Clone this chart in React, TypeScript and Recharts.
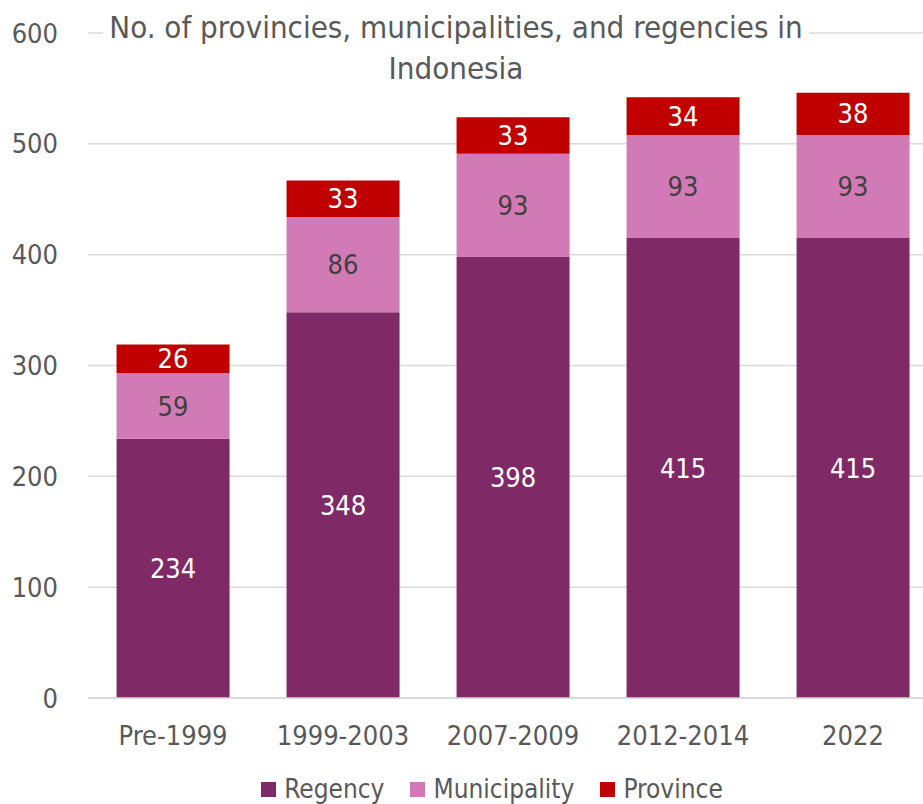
import { Bar, BarChart, CartesianGrid, LabelList, Legend, XAxis, YAxis } from 'recharts';

const categories = ['Pre-1999', '1999-2003', '2007-2009', '2012-2014', '2022'];
const regency = [234, 348, 398, 415, 415];
const municipality = [59, 86, 93, 93, 93];
const province = [26, 33, 33, 34, 38];
const yTicks = [0, 100, 200, 300, 400, 500, 600];

const FONT = "'DejaVu Sans', sans-serif";
const TEXT = '#595959';

const data = categories.map((name, i) => ({
  name,
  regency: regency[i],
  municipality: municipality[i],
  province: province[i],
}));

const legendItems = [
  { label: 'Regency', color: '#7f2a67' },
  { label: 'Municipality', color: '#d27ab6' },
  { label: 'Province', color: '#c00000' },
];

function LegendContent() {
  return (
    <div style={{ display: 'flex', justifyContent: 'center', alignItems: 'center', gap: 26, fontSize: 26, color: TEXT, paddingLeft: 46 }}>
      {legendItems.map((it) => (
        <div key={it.label} style={{ display: 'flex', alignItems: 'center', gap: 8 }}>
          <span style={{ width: 15, height: 15, background: it.color, display: 'inline-block' }} />
          <span>{it.label}</span>
        </div>
      ))}
    </div>
  );
}

export default function App() {
  return (
    <div
      style={{
        position: 'fixed',
        left: 0,
        top: 0,
        width: 923,
        height: 804,
        overflow: 'hidden',
        background: '#fff',
        fontFamily: FONT,
        fontStretch: 'condensed',
      }}
    >
      <BarChart
        width={940}
        height={804}
        data={data}
        margin={{ top: 33, right: 2, left: 0, bottom: 0 }}
        barCategoryGap="16.8%"
      >
        <CartesianGrid vertical={false} stroke="#d9d9d9" strokeWidth={1.5} />
        <XAxis
          dataKey="name"
          height={66}
          tick={{ fill: TEXT, fontSize: 27 }}
          tickLine={false}
          axisLine={{ stroke: '#d9d9d9', strokeWidth: 1.5 }}
          tickMargin={22}
        />
        <YAxis
          domain={[0, 600]}
          ticks={yTicks}
          width={88}
          tick={{ fill: TEXT, fontSize: 27, dx: -22 }}
          tickLine={false}
          axisLine={false}
        />
        <Legend verticalAlign="bottom" height={40} wrapperStyle={{ bottom: -10 }} content={<LegendContent />} />
        <Bar dataKey="regency" stackId="a" fill="#7f2a67" isAnimationActive={false}>
          <LabelList dataKey="regency" position="center" fill="#ffffff" fontSize={27} />
        </Bar>
        <Bar dataKey="municipality" stackId="a" fill="#d27ab6" isAnimationActive={false}>
          <LabelList dataKey="municipality" position="center" fill="#404040" fontSize={27} />
        </Bar>
        <Bar dataKey="province" stackId="a" fill="#c00000" isAnimationActive={false}>
          <LabelList dataKey="province" position="center" fill="#ffffff" fontSize={27} />
        </Bar>
      </BarChart>
      <div
        style={{
          position: 'absolute',
          left: 100,
          top: 7,
          width: 712,
          textAlign: 'center',
          fontSize: 31,
          lineHeight: '41px',
          color: TEXT,
        }}
      >
        <span style={{ background: '#fff', padding: '0 6px' }}>No. of provincies, municipalities, and regencies in</span>
        <br />
        <span>Indonesia</span>
      </div>
    </div>
  );
}
